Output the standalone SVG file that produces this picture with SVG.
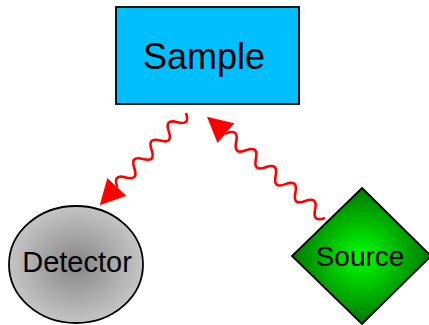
<svg xmlns="http://www.w3.org/2000/svg" width="429" height="325" viewBox="0 0 429 325">
  <style>
    .lbl { font-family: "Liberation Sans", Arial, sans-serif; fill: #000; text-anchor: middle; }
    .wave { fill: none; stroke: #ff0000; stroke-width: 2.6; stroke-linejoin: round; }
    .outline { stroke: #000; stroke-width: 1.8; }
  </style>
  <defs>
    <radialGradient id="gDet" cx="50%" cy="50%" r="50%">
      <stop offset="0" stop-color="#868686"/>
      <stop offset="1" stop-color="#c4c4c4"/>
    </radialGradient>
    <radialGradient id="gSrc" cx="50%" cy="50%" r="50%">
      <stop offset="0" stop-color="#00ff00"/>
      <stop offset="1" stop-color="#007800"/>
    </radialGradient>
    <marker id="head" markerUnits="userSpaceOnUse" viewBox="0 0 25 26" refX="0" refY="13" markerWidth="25" markerHeight="26" orient="auto">
      <path d="M0,0 L25,13 L0,26 z" fill="#ff0000"/>
    </marker>
  </defs>

  <g id="sample">
    <rect x="116" y="7" width="183" height="97" fill="#00bfff" class="outline"/>
    <text class="lbl" x="204" y="69" font-size="36">Sample</text>
  </g>

  <g id="detector">
    <ellipse cx="76" cy="264.5" rx="67" ry="58.5" fill="url(#gDet)" class="outline"/>
    <text class="lbl" x="77" y="272" font-size="29">Detector</text>
  </g>

  <g id="source">
    <polygon points="362,188 431,256 362,324 292,256" fill="url(#gSrc)" class="outline"/>
    <text class="lbl" x="360" y="266" font-size="28">Source</text>
  </g>

  <g id="connectors">
    <g transform="translate(186,113) rotate(133.1)">
      <path class="wave" marker-end="url(#head)" d="M0,0 q6.3,-12 12.6,0 t12.6,0 t12.6,0 t12.6,0 t12.6,0 t12.6,0 t12.6,0 t12.6,0 l0.4,0"/>
    </g>
    <g transform="translate(325,218) rotate(220.6)">
      <path class="wave" marker-end="url(#head)" d="M0,0 q6.5,-12 13,0 t13,0 t13,0 t13,0 t13,0 t13,0 t13,0 t13,0 t13,0 t13,0 l0.4,0"/>
    </g>
  </g>
</svg>
